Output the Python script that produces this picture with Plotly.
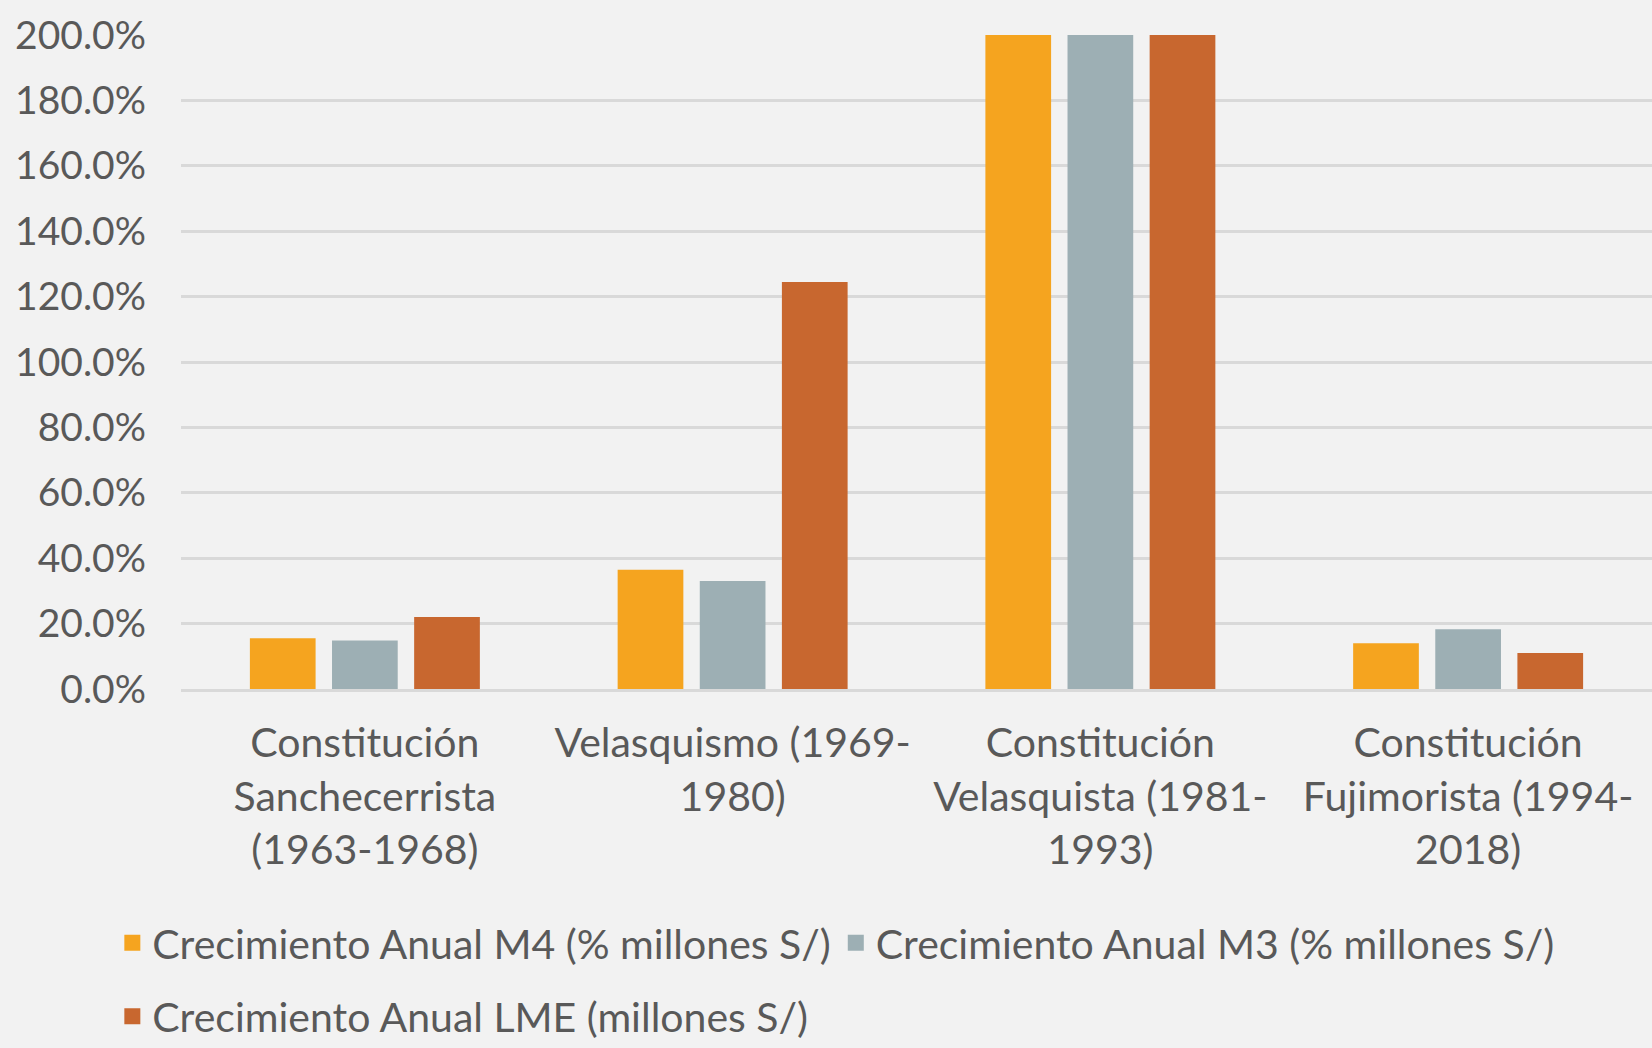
import plotly.graph_objects as go

periodos = [
    "Constitución<br>Sanchecerrista<br>(1963-1968)",
    "Velasquismo (1969-<br>1980)",
    "Constitución<br>Velasquista (1981-<br>1993)",
    "Constitución<br>Fujimorista (1994-<br>2018)",
]
m4 = [15.5, 36.5, 200.0, 14.0]
m3 = [14.8, 33.0, 200.0, 18.3]
lme = [22.0, 124.5, 200.0, 11.0]

series = [
    ("Crecimiento Anual M4 (% millones S/)", m4, "#F5A41F", "legend"),
    ("Crecimiento Anual M3 (% millones S/)", m3, "#9DAFB4", "legend"),
    ("Crecimiento Anual LME (millones S/)", lme, "#C8672F", "legend2"),
]

fig = go.Figure()
for name, vals, color, leg in series:
    fig.add_trace(go.Bar(x=periodos, y=vals, name=name, marker_color=color,
                         marker_line_width=0, showlegend=False))
    # legend-only entry with a bigger square swatch
    fig.add_trace(go.Scatter(x=[None], y=[None], mode="markers", name=name,
                             marker=dict(symbol="square", size=20, color=color),
                             legend=leg))

font = dict(family="Lato, sans-serif", size=39, color="#595959")
leg_font = dict(family="Lato, sans-serif", size=41, color="#595959")
leg_common = dict(orientation="h", xref="container", yref="container",
                  xanchor="left", yanchor="middle", font=leg_font,
                  itemwidth=30, bgcolor="rgba(0,0,0,0)")
fig.update_layout(
    width=1652, height=1048,
    paper_bgcolor="#F2F2F2", plot_bgcolor="#F2F2F2",
    font=font,
    margin=dict(l=181, r=0, t=35, b=359),
    barmode="group", bargap=0.33, bargroupgap=0.2,
    legend=dict(x=0.068, y=0.1, **leg_common),
    legend2=dict(x=0.068, y=0.03, **leg_common),
)
fig.update_yaxes(range=[0, 200], dtick=20, tickformat=".1f", ticksuffix="%",
                 gridcolor="#D9D9D9", gridwidth=3, zeroline=False,
                 ticklabelstandoff=34)
fig.update_xaxes(showline=True, linecolor="#D9D9D9", linewidth=3,
                 ticks="", ticklabelstandoff=16, tickfont_size=41)

fig.write_html("out.html", config={"displayModeBar": False},
               post_script="document.body.style.margin='0';"
                           "document.body.style.background='#F2F2F2';")
